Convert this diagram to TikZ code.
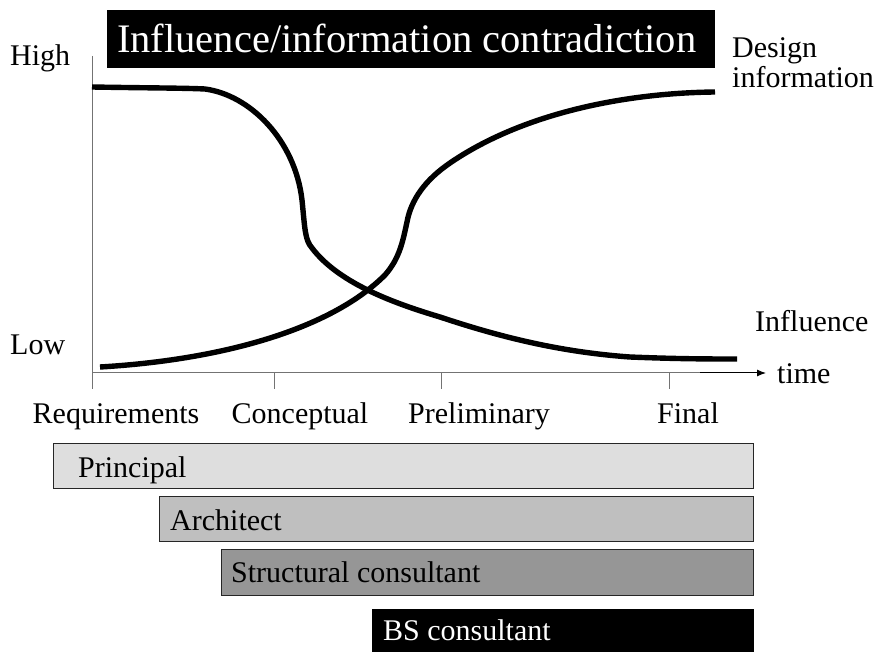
\documentclass[tikz,border=0pt]{standalone}
\usepackage{fontspec}
\setmainfont{Liberation Serif}
\usetikzlibrary{arrows.meta}
\begin{document}
\begin{tikzpicture}[x=1pt,y=-1pt,
  lbl/.style={font=\fontsize{30}{35}\selectfont, inner sep=0pt, anchor=base west},
  clbl/.style={font=\fontsize{30}{35}\selectfont, inner sep=0pt, anchor=base},
  barbox/.style={draw=black!85, line width=0.9pt, inner sep=0pt, anchor=north west, minimum height=45pt},
  curve/.style={line width=5.4pt, line cap=butt},
  axis/.style={draw=black!55, line width=1pt},
  tick/.style={draw=black!55, line width=1pt}]
\useasboundingbox (0,0) rectangle (876,652);

% title
\node[fill=black, inner sep=0pt, anchor=north west, minimum width=608pt, minimum height=58pt] (titlebox) at (107,10) {};
\node[font=\fontsize{40.5}{46}\selectfont, text=white, inner sep=0pt, anchor=base west] (title) at (117,53) {Influence/information contradiction};

% axes
\coordinate (ytop) at (92,56);
\coordinate (ybot) at (92,389);
\coordinate (xleft) at (92,373);
\coordinate (xmid) at (700,373);
\coordinate (xright) at (766,373);
\draw[axis] (ytop) -- (ybot);
\draw[axis] (xleft) -- (xmid);
\draw[line width=1pt, -{Latex[length=9pt,width=7pt]}] (xmid) -- (xright);
\foreach \n/\x in {t1/274, t2/441, t3/669}{
  \coordinate (\n a) at (\x,373);
  \coordinate (\n b) at (\x,389);
  \draw[tick] (\n a) -- (\n b);
}

% axis labels
\node[lbl] (high) at (10,66) {High};
\node[lbl] (low) at (10,355) {Low};
\node[lbl] (time) at (777,384) {time};
\node[lbl] (design) at (732,58) {Design};
\node[lbl] (information) at (732,88) {information};
\node[lbl] (influence) at (755,332) {Influence};

\node[clbl] (req) at (116,423) {Requirements};
\node[clbl] (conc) at (300,423) {Conceptual};
\node[clbl] (prel) at (479,423) {Preliminary};
\node[clbl] (final) at (688,423) {Final};

% curves
\draw[curve] (92,87) .. controls (150,88) and (185,88) .. (205,89)
  .. controls (250,95) and (295,140) .. (302,200)
  .. controls (305,230) and (305,240) .. (312,248)
  .. controls (340,285) and (400,305) .. (440,317)
  .. controls (500,337) and (560,352) .. (630,357)
  .. controls (680,359) and (710,359) .. (737,359);
\draw[curve] (100,367) .. controls (220,360) and (330,330) .. (385,275)
  .. controls (400,258) and (403,240) .. (407,222)
  .. controls (411,200) and (425,180) .. (450,163)
  .. controls (520,115) and (620,93) .. (715,92);

% bars
\node[barbox, fill=black!13, minimum width=700pt] (principal) at (53,443) {};
\node[lbl] (principaltext) at (78,477) {Principal};
\node[barbox, fill=black!25, minimum width=594pt] (architect) at (159,496) {};
\node[lbl] (architecttext) at (170,530) {Architect};
\node[barbox, fill=black!41, minimum width=532pt, minimum height=46pt] (structural) at (221,549) {};
\node[lbl] (structuraltext) at (231,582) {Structural consultant};
\node[barbox, fill=black, draw=black, minimum width=381pt, minimum height=60pt] (bs) at (372,609) {};
\node[lbl, text=white] (bstext) at (383,640) {BS consultant};
\end{tikzpicture}
\end{document}
